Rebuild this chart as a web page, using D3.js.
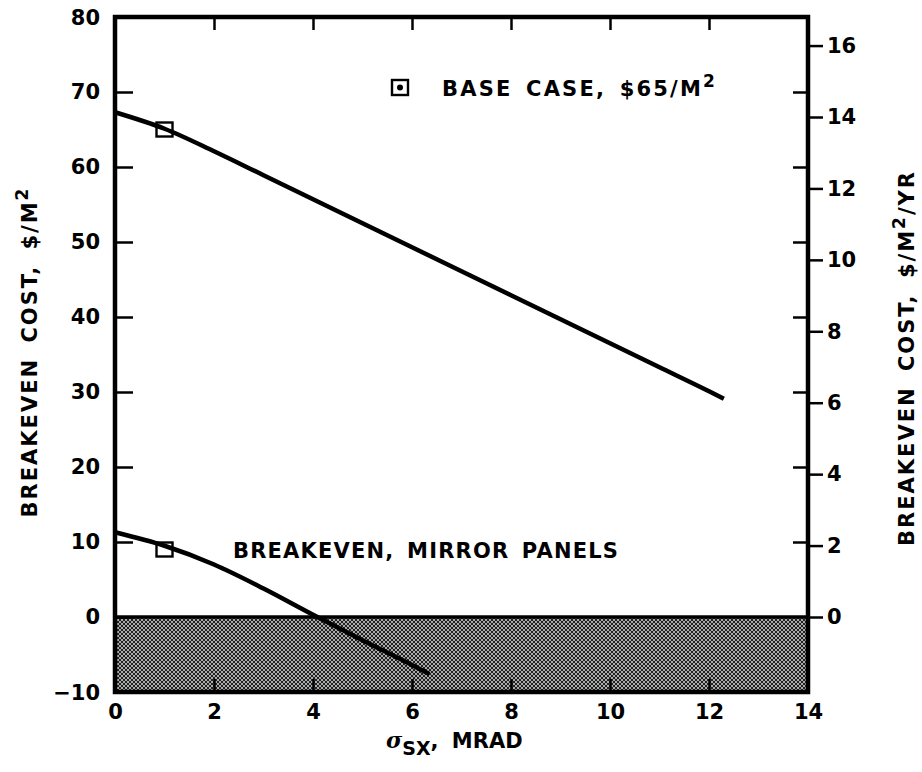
<!DOCTYPE html>
<html>
<head>
<meta charset="utf-8">
<script src="https://cdn.jsdelivr.net/npm/d3@7"></script>
<style>
  body { margin: 0; background: #fff; }
  text { font-family: "DejaVu Sans", "Liberation Sans", sans-serif; font-weight: bold; fill: #000; }
</style>
</head>
<body>
<script>
// Datos
const sigmaX = [0, 1, 2, 3, 4, 5, 6, 7, 8, 9, 10, 11, 12, 12.3];
const costoBase = [67.3, 65.1, 62.1, 58.9, 55.7, 52.5, 49.3, 46.1, 42.9, 39.7, 36.5, 33.3, 30.1, 29.1];

const sigmaEspejo = [0, 1, 2, 3, 4, 5, 6, 6.35];
const costoEspejo = [11.3, 9.5, 7.0, 3.8, 0.3, -3.1, -6.4, -7.6];

// Marcadores cuadrados en sigma = 1
const marcadores = [
  { x: 1, y: 65 },
  { x: 1, y: 9 }
];

const ticksX = [0, 2, 4, 6, 8, 10, 12, 14];
const ticksIzq = [-10, 0, 10, 20, 30, 40, 50, 60, 70, 80];
const ticksDer = [0, 2, 4, 6, 8, 10, 12, 14, 16];
const factorAnual = 0.21; // $/M2 -> $/M2/YR

const izq = 115, der = 808, arriba = 17, abajo = 692;

const svg = d3.select("body")
  .append("svg")
  .attr("width", 922)
  .attr("height", 772);

const escalaX = d3.scaleLinear().domain([0, 14]).range([izq, der]);
const escalaY = d3.scaleLinear().domain([-10, 80]).range([abajo, arriba]);
const escalaYDer = d3.scaleLinear().domain([-10 * factorAnual, 80 * factorAnual]).range([abajo, arriba]);

const menos = d => d < 0 ? "\u2212" + Math.abs(d) : d;

// Trama gris para la zona negativa
const defs = svg.append("defs");
const patron = defs.append("pattern")
  .attr("id", "trama")
  .attr("patternUnits", "userSpaceOnUse")
  .attr("width", 4)
  .attr("height", 4);
patron.append("rect").attr("width", 4).attr("height", 4).attr("fill", "#a9a9a9");
patron.append("path")
  .attr("d", "M0,0 L4,4 M4,0 L0,4")
  .attr("stroke", "#222")
  .attr("stroke-width", 1);

svg.append("rect")
  .attr("x", escalaX(0))
  .attr("y", escalaY(0))
  .attr("width", escalaX(14) - escalaX(0))
  .attr("height", escalaY(-10) - escalaY(0))
  .attr("fill", "url(#trama)");

svg.append("line")
  .attr("x1", escalaX(0)).attr("x2", escalaX(14))
  .attr("y1", escalaY(0)).attr("y2", escalaY(0))
  .attr("stroke", "#000").attr("stroke-width", 3.5);

// Ejes
function limpiar(g) {
  g.select(".domain").remove();
  g.selectAll(".tick line").attr("stroke", "#000").attr("stroke-width", 2.5);
  g.selectAll(".tick text").attr("font-size", 21).attr("font-family", null);
}

svg.append("g")
  .attr("transform", `translate(${izq},0)`)
  .call(d3.axisLeft(escalaY).tickValues(ticksIzq.filter(d => d > -10 && d < 80)).tickSizeInner(-18).tickSizeOuter(0).tickPadding(15).tickFormat(menos))
  .call(limpiar);

// etiquetas de las esquinas (-10 y 80) sin marca
svg.selectAll(".esquina")
  .data([-10, 80])
  .join("text")
  .attr("class", "esquina")
  .attr("x", izq - 15)
  .attr("y", d => escalaY(d))
  .attr("dy", "0.36em")
  .attr("text-anchor", "end")
  .attr("font-size", 21)
  .text(menos);

// marcas internas en el eje derecho (escala izquierda)
svg.append("g")
  .attr("transform", `translate(${der},0)`)
  .call(d3.axisLeft(escalaY).tickValues(ticksIzq.filter(d => d > 0 && d < 80)).tickSize(15).tickFormat(""))
  .call(limpiar);

svg.append("g")
  .attr("transform", `translate(${der},0)`)
  .call(d3.axisRight(escalaYDer).tickValues(ticksDer).tickSizeInner(15).tickSizeOuter(0).tickPadding(4))
  .call(limpiar);

svg.append("g")
  .attr("transform", `translate(0,${abajo})`)
  .call(d3.axisBottom(escalaX).tickValues(ticksX).tickSizeInner(0).tickSizeOuter(0).tickPadding(12))
  .call(limpiar);

svg.append("g")
  .attr("transform", `translate(0,${abajo})`)
  .call(d3.axisTop(escalaX).tickValues(ticksX.filter(d => d > 0 && d < 14)).tickSize(13).tickFormat(""))
  .call(limpiar);

svg.append("g")
  .attr("transform", `translate(0,${arriba})`)
  .call(d3.axisBottom(escalaX).tickValues(ticksX.filter(d => d > 0 && d < 14)).tickSize(13).tickFormat(""))
  .call(limpiar);

// Marco
svg.append("rect")
  .attr("x", izq).attr("y", arriba)
  .attr("width", der - izq).attr("height", abajo - arriba)
  .attr("fill", "none")
  .attr("stroke", "#000")
  .attr("stroke-width", 4.5);

// Curvas
const linea = d3.line()
  .x(d => escalaX(d[0]))
  .y(d => escalaY(d[1]))
  .curve(d3.curveMonotoneX);

svg.append("path")
  .datum(d3.zip(sigmaX, costoBase))
  .attr("d", linea)
  .attr("fill", "none")
  .attr("stroke", "#000")
  .attr("stroke-width", 4.5);

svg.append("path")
  .datum(d3.zip(sigmaEspejo, costoEspejo))
  .attr("d", linea)
  .attr("fill", "none")
  .attr("stroke", "#000")
  .attr("stroke-width", 4.5);

svg.selectAll(".marcador")
  .data(marcadores)
  .join("rect")
  .attr("class", "marcador")
  .attr("x", d => escalaX(d.x) - 8)
  .attr("y", d => escalaY(d.y) - 7)
  .attr("width", 16)
  .attr("height", 14)
  .attr("fill", "none")
  .attr("stroke", "#000")
  .attr("stroke-width", 2.4);

// Leyenda del caso base
svg.append("rect")
  .attr("x", 392).attr("y", 80)
  .attr("width", 16).attr("height", 15)
  .attr("fill", "none").attr("stroke", "#000").attr("stroke-width", 2.4);
svg.append("circle")
  .attr("cx", 400).attr("cy", 87.5).attr("r", 3).attr("fill", "#000");

const leyenda = svg.append("text")
  .attr("x", 442).attr("y", 96)
  .attr("font-size", 21)
  .attr("letter-spacing", 2.2)
  .attr("word-spacing", 4);
leyenda.append("tspan").text("BASE CASE, $65/M");
leyenda.append("tspan").attr("dy", -9).attr("font-size", 17).text("2");

svg.append("text")
  .attr("x", 233).attr("y", 558)
  .attr("font-size", 21)
  .attr("letter-spacing", 1.2)
  .attr("word-spacing", 4)
  .text("BREAKEVEN, MIRROR PANELS");

// Títulos de los ejes
const tituloIzq = svg.append("text")
  .attr("transform", "translate(37,352) rotate(-90)")
  .attr("text-anchor", "middle")
  .attr("font-size", 21)
  .attr("letter-spacing", 2)
  .attr("word-spacing", 6);
tituloIzq.append("tspan").text("BREAKEVEN COST, $/M");
tituloIzq.append("tspan").attr("dy", -9).attr("font-size", 17).text("2");

const tituloDer = svg.append("text")
  .attr("transform", "translate(914,358) rotate(-90)")
  .attr("text-anchor", "middle")
  .attr("font-size", 21)
  .attr("letter-spacing", 2)
  .attr("word-spacing", 6);
tituloDer.append("tspan").text("BREAKEVEN COST, $/M");
tituloDer.append("tspan").attr("dy", -9).attr("font-size", 17).text("2");
tituloDer.append("tspan").attr("dy", 9).text("/YR");

const tituloX = svg.append("text")
  .attr("x", 386).attr("y", 748)
  .attr("font-size", 21);
tituloX.append("tspan").attr("font-style", "italic").attr("font-family", "DejaVu Serif").attr("font-size", 22).text("σ");
tituloX.append("tspan").attr("dy", 7).attr("font-size", 19).text("SX");
tituloX.append("tspan").attr("dy", -7).attr("word-spacing", 6).text(", MRAD");
</script>
</body>
</html>
